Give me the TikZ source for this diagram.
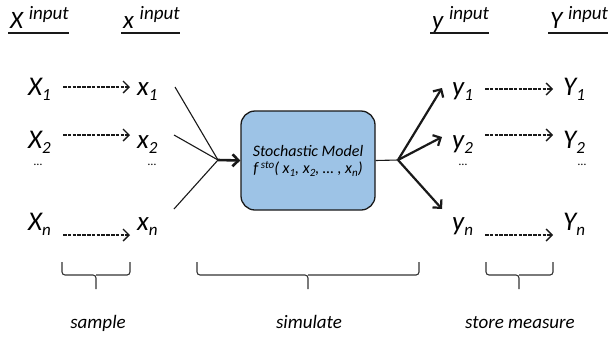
\documentclass[tikz,border=0pt]{standalone}
\usepackage{fontspec}
\setmainfont{Carlito}
\usepackage{xcolor}
\usetikzlibrary{arrows.meta}
\usetikzlibrary{math}
\definecolor{mblue}{RGB}{157,195,230}
\definecolor{mline}{RGB}{25,25,25}

% sub- and superscripts, large and small
\newcommand{\lo}[1]{\raisebox{-5pt}{\fontsize{17}{17}\selectfont #1}}
\newcommand{\hi}[1]{\raisebox{9pt}{\fontsize{19}{19}\selectfont #1}}
\newcommand{\ls}[1]{\raisebox{-3pt}{\fontsize{11}{11}\selectfont #1}}
\newcommand{\hs}[1]{\raisebox{5pt}{\fontsize{11}{11}\selectfont #1}}

\begin{document}
\begin{tikzpicture}[x=1pt,y=-1pt,
  lbl/.style={font=\fontsize{27}{29}\selectfont\itshape, inner sep=0pt, anchor=base west},
  hdr/.style={font=\fontsize{25}{28}\selectfont\itshape, inner sep=0pt, anchor=base west},
  dotnode/.style={font=\fontsize{12}{12}\selectfont, inner sep=0pt, anchor=base},
  steplabel/.style={font=\fontsize{19}{20}\selectfont\itshape, inner sep=0pt, anchor=base},
  uline/.style={line width=1.8pt, draw=mline},
  dasharrow/.style={line width=1.4pt, draw=mline, dash pattern=on 3.5pt off 1.3pt, -{Straight Barb[length=6pt,width=12pt]}},
  boldarrow/.style={line width=2.2pt, draw=mline, -{Straight Barb[length=6pt,width=12pt]}},
  feed/.style={line width=1.1pt, draw=mline},
  bracket/.style={line width=1.1pt, draw=black!80, rounded corners=3pt},
  model/.style={draw=mline, line width=1.3pt, fill=mblue, rounded corners=14pt,
    minimum width=134pt, minimum height=99pt, align=center,
    font=\fontsize{16}{16}\selectfont\itshape}
]
\useasboundingbox (0,0) rectangle (612,338);

\tikzmath{
\xa = 28;  % X column
\xb = 137; % x column
\xc = 452; % y column
\xd = 563; % Y column
\ra = 95;  % baselines of the rows
\rb = 148;
\rn = 230;
}

%headers:
\node[hdr] (hX) at (10,28) {X \hi{input}};
\node[hdr] (hx) at (123,28) {x \hi{input}};
\node[hdr] (hy) at (432,28) {y \hi{input}};
\node[hdr] (hY) at (550,28) {Y \hi{input}};
\foreach \h in {hX,hx,hy,hY}
  \draw[uline] ([shift={(-2,5)}]\h.base west) -- ([shift={(0,5)}]\h.base east);

%rows:
\node[lbl] (X1) at (\xa,\ra) {X\lo{1}};
\node[lbl] (X2) at (\xa,\rb) {X\lo{2}};
\node[lbl] (Xn) at (\xa,\rn) {X\lo{n}};
\node[lbl] (x1) at (\xb,\ra) {x\lo{1}};
\node[lbl] (x2) at (\xb,\rb) {x\lo{2}};
\node[lbl] (xn) at (\xb,\rn) {x\lo{n}};
\node[lbl] (y1) at (\xc,\ra) {y\lo{1}};
\node[lbl] (y2) at (\xc,\rb) {y\lo{2}};
\node[lbl] (yn) at (\xc,\rn) {y\lo{n}};
\node[lbl] (Y1) at (\xd,\ra) {Y\lo{1}};
\node[lbl] (Y2) at (\xd,\rb) {Y\lo{2}};
\node[lbl] (Yn) at (\xd,\rn) {Y\lo{n}};

\node[dotnode] (dX) at (38,165) {…};
\node[dotnode] (dx) at (152,165) {…};
\node[dotnode] (dy) at (463,165) {…};
\node[dotnode] (dY) at (582,165) {…};

%sample and store:
\foreach \r/\ya/\yb in {1/87/89, 2/135/135, n/235/235}{
  \coordinate (sX\r) at (63,\ya);
  \coordinate (ex\r) at (130,\ya);
  \coordinate (sy\r) at (485,\yb);
  \coordinate (eY\r) at (553,\yb);
  \draw[dasharrow] (sX\r) -- (ex\r);
  \draw[dasharrow] (sy\r) -- (eY\r);
}

%model:
\node[model] (sto) at (308,160.5) {Stochastic Model\\[1pt] f\,\hs{sto}( x\ls{1}, x\ls{2}, … , x\ls{n})};

\coordinate (cin) at (218,160);
\coordinate (cout) at (398,160);
\coordinate (o1) at (175,87);
\coordinate (o2) at (174,135);
\coordinate (on) at (174,209);
\coordinate (i1) at (442,88);
\coordinate (i2) at (442,137);
\coordinate (in) at (442,209);

\foreach \k in {1,2,n}
  \draw[feed] (o\k) -- (cin);
\draw[boldarrow, line width=2.6pt] (cin) -- (sto.west);
\draw[feed] (sto.east) -- (cout);
\foreach \k in {1,2,n}
  \draw[boldarrow] (cout) -- (i\k);

%braces:
\draw[bracket] (62,262) |- (96,275) -- (96,289);
\draw[bracket] (130,262) |- (96,275);
\draw[bracket] (197,262) |- (308,275) -- (308,289);
\draw[bracket] (419,262) |- (308,275);
\draw[bracket] (486,262) |- (519,275) -- (519,289);
\draw[bracket] (553,262) |- (519,275);

\node[steplabel] (smp) at (98,328) {sample};
\node[steplabel] (sim) at (309,328) {simulate};
\node[steplabel] (stm) at (520,328) {store measure};

\end{tikzpicture}
\end{document}
